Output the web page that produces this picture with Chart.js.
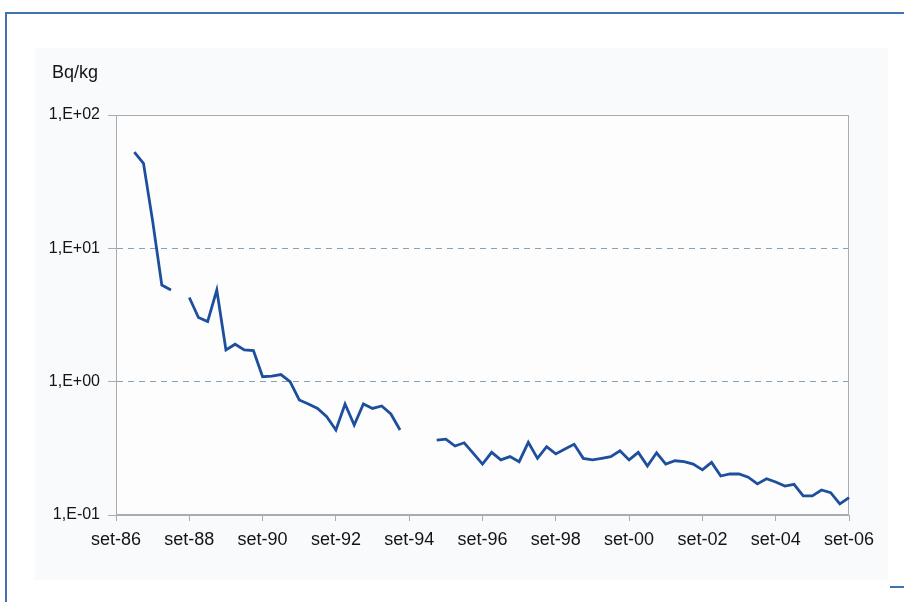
<!DOCTYPE html>
<html lang="it">
<head>
    <meta charset="UTF-8">
    <title>Bq/kg</title>
    <style>
        body { margin: 0; background: #fff; }
        .wrap { position: relative; width: 904px; height: 602px; overflow: hidden; }
        .frame { position: absolute; left: 5px; top: 12px; width: 940px; height: 640px;
                 border-left: 2px solid #3f72b0; border-top: 2px solid #3f72b0; }
        .panel { position: absolute; left: 35px; top: 48px; width: 853px; height: 532px; background: #f9fafc; }
        .tail { position: absolute; left: 890px; top: 586px; width: 14px; height: 2px; background: #3f72b0; }
        canvas { position: absolute; left: 0; top: 0; }
    </style>
</head>
<body>
    <div class="wrap">
        <div class="frame"></div>
        <div class="panel"></div>
        <div class="tail"></div>
        <canvas id="myChart" width="904" height="602"></canvas>
    </div>

    <script src="https://cdn.jsdelivr.net/npm/chart.js"></script>
    <script>
    // quarterly samples, set-86 .. set-06 (null = no measurement)
    const months = ['set', 'dic', 'mar', 'giu'];
    const quarters = [];
    for (let i = 0, yy = 86; i <= 80; i++) {
        if (i % 4 === 2) yy++;
        quarters.push(months[i % 4] + '-' + String(yy % 100).padStart(2, '0'));
    }

    const xTickLabels = ['set-86', 'set-88', 'set-90', 'set-92', 'set-94', 'set-96',
                         'set-98', 'set-00', 'set-02', 'set-04', 'set-06'];
    const yTicks = [0.1, 1, 10, 100];
    const yTickLabels = ['1,E-01', '1,E+00', '1,E+01', '1,E+02'];

    const activity = [
        null, null, 52.7, 43.4, 16.0, 5.3, 4.87, null,
        4.28, 3.03, 2.82, 4.87, 1.73, 1.91, 1.73, 1.71,
        1.09, 1.10, 1.13, 1.00, 0.729, 0.68, 0.63, 0.546,
        0.434, 0.68, 0.473, 0.68, 0.63, 0.657, 0.572, 0.434,
        null, null, null, 0.365, 0.371, 0.329, 0.348, 0.290,
        0.241, 0.295, 0.259, 0.274, 0.251, 0.351, 0.266, 0.325,
        0.287, 0.313, 0.339, 0.266, 0.259, 0.266, 0.274, 0.303,
        0.259, 0.295, 0.233, 0.293, 0.241, 0.255, 0.251, 0.241,
        0.218, 0.248, 0.196, 0.203, 0.203, 0.192, 0.171, 0.187,
        0.177, 0.165, 0.170, 0.139, 0.139, 0.154, 0.147, 0.121,
        0.135
    ];

    const axisGray = '#a9adb1';
    const textColor = '#141414';

    // plot background, frame and unit label
    const plotFrame = {
        id: 'plotFrame',
        beforeDraw(chart) {
            const { ctx, chartArea: a } = chart;
            ctx.save();
            ctx.fillStyle = '#fdfdfe';
            ctx.fillRect(a.left, a.top, a.right - a.left, a.bottom - a.top);
            ctx.restore();
        },
        beforeDatasetsDraw(chart) {
            const { ctx, chartArea: a } = chart;
            ctx.save();
            ctx.strokeStyle = axisGray;
            ctx.lineWidth = 1;
            ctx.strokeRect(a.left + 0.5, a.top + 0.5, a.right - a.left - 1, a.bottom - a.top - 1);
            ctx.restore();
        },
        afterDraw(chart) {
            const ctx = chart.ctx;
            ctx.save();
            ctx.fillStyle = textColor;
            ctx.font = '18px "Liberation Sans", Arial, sans-serif';
            ctx.textBaseline = 'middle';
            ctx.fillText('Bq/kg', 52, 73);
            ctx.restore();
        }
    };

    const ctx = document.getElementById('myChart').getContext('2d');
    new Chart(ctx, {
        type: 'line',
        data: {
            labels: quarters,
            datasets: [{
                data: activity,
                borderColor: '#1d4f9c',
                borderWidth: 2.8,
                pointRadius: 0,
                tension: 0,
                spanGaps: false
            }]
        },
        options: {
            responsive: false,
            animation: false,
            devicePixelRatio: 1,
            layout: { padding: { left: 0, top: 115, right: 55, bottom: 0 } },
            plugins: { legend: { display: false }, tooltip: { enabled: false } },
            scales: {
                x: {
                    type: 'category',
                    offset: false,
                    afterFit: s => { s.height = 87; },
                    grid: {
                        drawOnChartArea: false,
                        drawTicks: true,
                        tickLength: 6,
                        tickColor: axisGray
                    },
                    border: { display: true, color: axisGray, width: 1 },
                    ticks: {
                        autoSkip: false,
                        maxRotation: 0,
                        padding: 8,
                        color: textColor,
                        font: { family: '"Liberation Sans", Arial, sans-serif', size: 18 },
                        callback: (v, i) => xTickLabels.includes(quarters[i]) ? quarters[i] : null
                    }
                },
                y: {
                    type: 'logarithmic',
                    min: 0.1,
                    max: 100,
                    afterFit: s => { s.width = 116; },
                    afterBuildTicks: s => { s.ticks = yTicks.map(v => ({ value: v })); },
                    grid: {
                        color: c => (c.tick && (c.tick.value === 1 || c.tick.value === 10)) ? '#86a2b8' : 'rgba(0,0,0,0)',
                        lineWidth: 1,
                        tickLength: 8,
                        tickColor: axisGray,
                        tickBorderDash: []
                    },
                    border: { display: true, color: axisGray, width: 1, dash: [6, 5] },
                    ticks: {
                        padding: 8,
                        color: textColor,
                        font: { family: '"Liberation Sans", Arial, sans-serif', size: 16 },
                        callback: v => yTickLabels[yTicks.indexOf(v)]
                    }
                }
            }
        },
        plugins: [plotFrame]
    });
    </script>
</body>
</html>
